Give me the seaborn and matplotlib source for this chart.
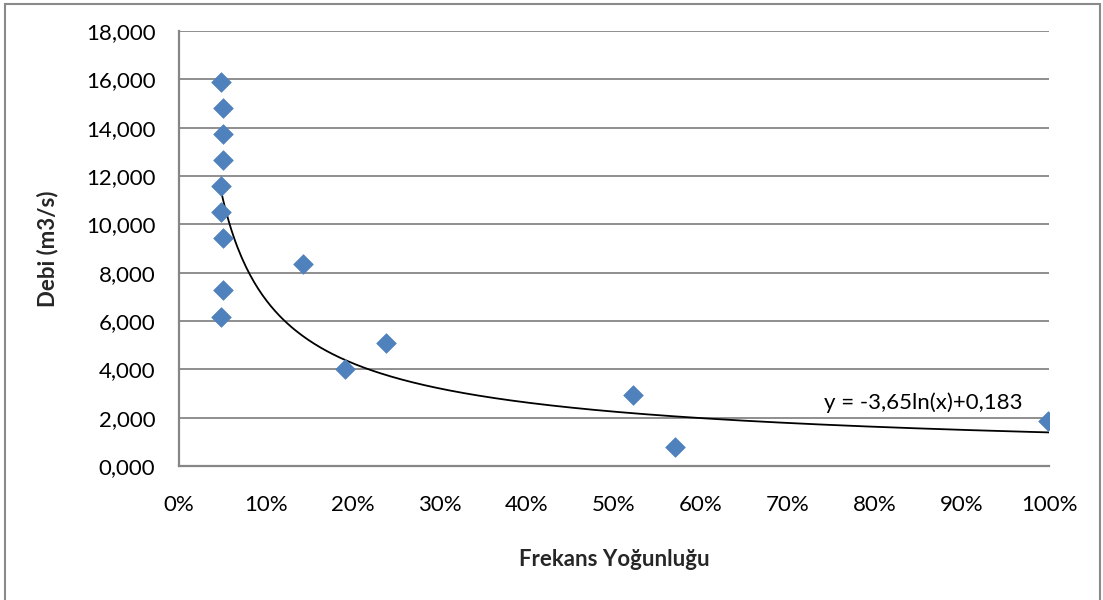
import numpy as np
import pandas as pd
import seaborn as sns
import matplotlib.pyplot as plt
from matplotlib.ticker import FuncFormatter
from matplotlib.patches import Rectangle

# Data
frekans = [0.0483, 0.0506, 0.0506, 0.0506, 0.0483, 0.0483, 0.0506, 0.1425,
           0.0506, 0.0483, 0.1908, 0.2380, 0.5220, 0.5700, 0.9990]
debi = [15.89, 14.81, 13.74, 12.66, 11.58, 10.51, 9.43, 8.36,
        7.28, 6.16, 4.01, 5.09, 2.94, 0.79, 1.86]

# Trendline as drawn (power-shaped curve)
trend_a = 1.39
trend_b = -0.694
trend_label = "y = -3,65ln(x)+0,183"

x_ticks = [0.0, 0.1, 0.2, 0.3, 0.4, 0.5, 0.6, 0.7, 0.8, 0.9, 1.0]
y_ticks = [0, 2, 4, 6, 8, 10, 12, 14, 16, 18]

sns.set_style("white")
plt.rcParams['font.family'] = ['Lato', 'DejaVu Sans']

df = pd.DataFrame({"Frekans": frekans, "Debi": debi})

fig = plt.figure(figsize=(11.03, 6.0), dpi=100)
ax = fig.add_axes([179 / 1103, 1 - 466 / 600, (1049 - 179) / 1103, (466 - 31) / 600])

grid_c = "#868686"
for yv in y_ticks[1:]:
    ax.axhline(yv, color=grid_c, lw=1.3, zorder=1)

xs = np.linspace(min(frekans), 1.0, 400)
ax.plot(xs, trend_a * xs ** trend_b, color="black", lw=1.3, zorder=2)

sns.scatterplot(data=df, x="Frekans", y="Debi", marker="D", s=100, color="#4F81BD",
                edgecolor="#4F81BD", linewidth=0.5, ax=ax, zorder=3)

ax.set_xlim(0, 1.0)
ax.set_ylim(0, 18)
ax.set_xticks(x_ticks)
ax.set_yticks(y_ticks)
ax.xaxis.set_major_formatter(FuncFormatter(lambda v, p: f"{v*100:.0f}%"))
ax.yaxis.set_major_formatter(FuncFormatter(lambda v, p: f"{v:.3f}".replace('.', ',')))

for side in ["top", "right"]:
    ax.spines[side].set_visible(False)
for side in ["left", "bottom"]:
    ax.spines[side].set_color(grid_c)
    ax.spines[side].set_linewidth(1.6)
    ax.spines[side].set_zorder(4)

fs = 16
ax.tick_params(axis="both", direction="out", length=5, width=1.3, color=grid_c,
               labelsize=fs, labelcolor="black")
ax.tick_params(axis="x", pad=16)
ax.tick_params(axis="y", pad=12)

ax.set_xlabel("Frekans Yoğunluğu", fontsize=fs, fontweight="bold", labelpad=24)
ax.set_ylabel("Debi (m3/s)", fontsize=fs, fontweight="bold", labelpad=20)

ax.text(0.969, 2.6, trend_label, fontsize=fs, ha="right", va="center", color="black", zorder=5)

fig.patches.append(Rectangle((5 / 1103, -0.02), (1100 - 5) / 1103, 1.02 - 3.5 / 600,
                             transform=fig.transFigure, fill=False,
                             edgecolor="#8a8a8a", lw=1.5))

fig.savefig("out.png", dpi=100)
